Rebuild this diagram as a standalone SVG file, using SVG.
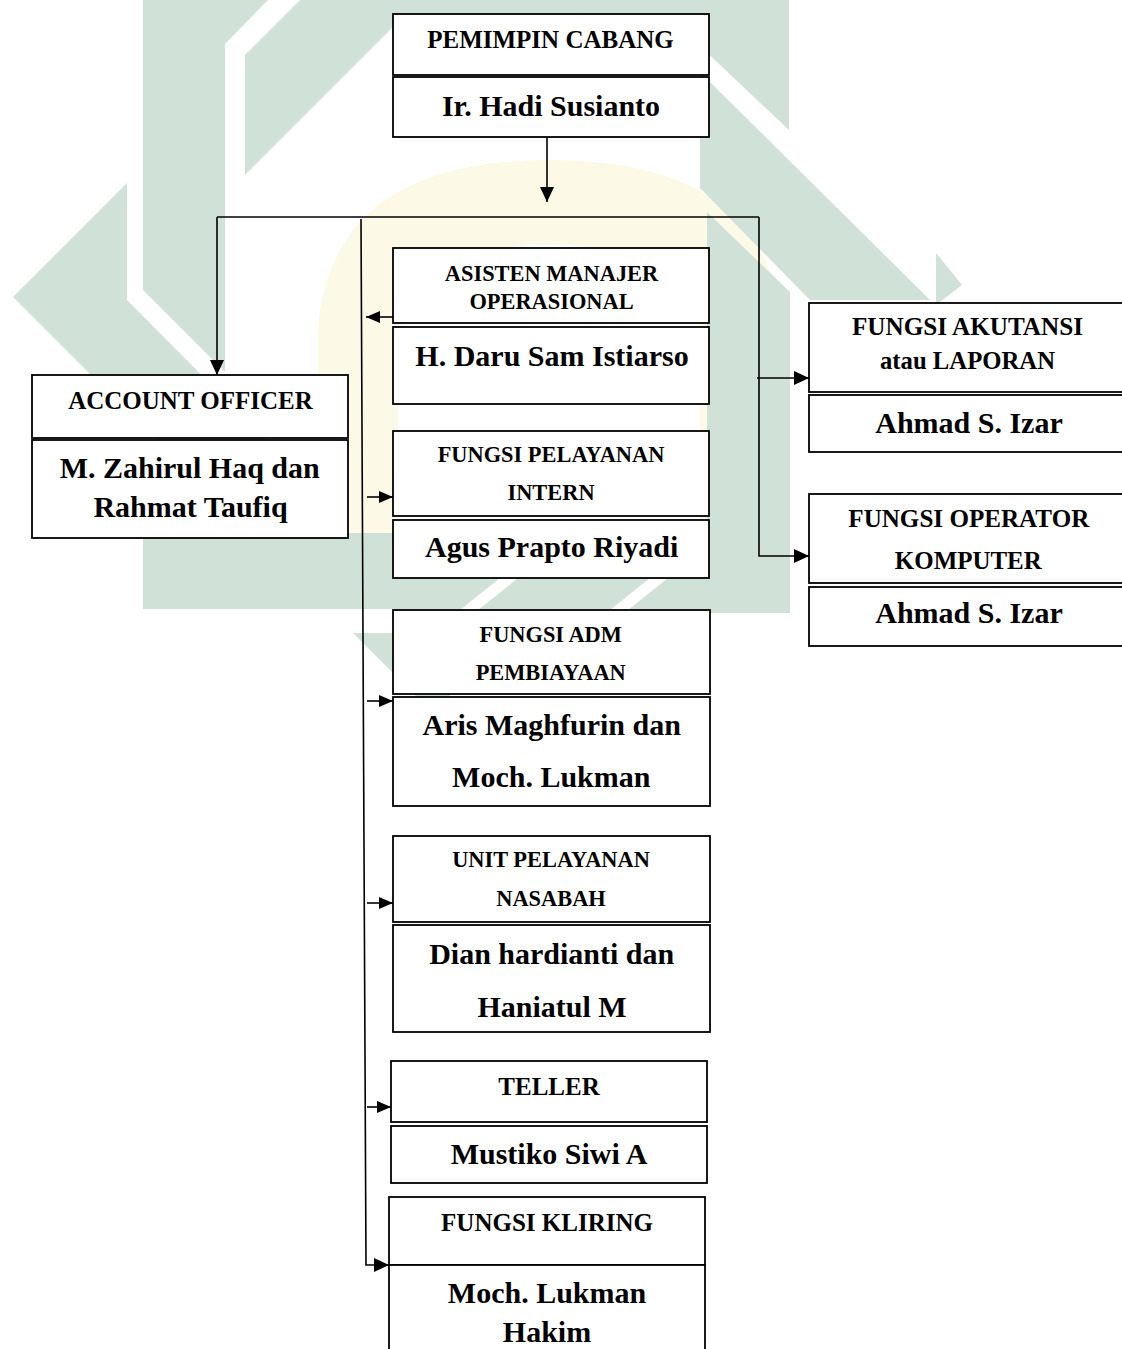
<svg xmlns="http://www.w3.org/2000/svg" width="1122" height="1349" viewBox="0 0 1122 1349">
  <defs>
    <style>
      .wm { fill: #d0e2d7; }
      .wy { fill: #fdf9e7; }
      .box { fill: #ffffff; stroke: #000000; stroke-width: 1.8; }
      .ln { fill: none; stroke: #000000; stroke-width: 1.6; }
      text { font-family: "Liberation Serif", "Times New Roman", serif; font-weight: bold; fill: #000000; text-anchor: middle; }
      .h1 { font-size: 25px; }
      .h2 { font-size: 22.4px; }
      .nm { font-size: 30px; }
    </style>
    <marker id="ah" markerUnits="userSpaceOnUse" markerWidth="15" markerHeight="14" refX="15" refY="7" orient="auto">
      <path d="M0,0 L15,7 L0,14 z" fill="#000000"/>
    </marker>
    <marker id="ahs" markerUnits="userSpaceOnUse" markerWidth="14" markerHeight="12" refX="14" refY="6" orient="auto">
      <path d="M0,0 L14,6 L0,12 z" fill="#000000"/>
    </marker>
  </defs>

  <rect x="0" y="0" width="1122" height="1349" fill="#ffffff"/>

  <!-- background emblem -->
  <g id="emblem">
    <path class="wy" d="M318,545 L318,330 Q330,160 550,160 Q770,160 782,330 L782,545 L700,545 L700,340 Q690,245 550,245 Q410,245 398,340 L398,545 z"/>
    <polygon class="wm" points="143,0 268,0 225,44 225,372 143,290"/>
    <polygon class="wm" points="127,183 13,297 190,474 300,474 127,300"/>
    <polygon class="wm" points="245,55 300,0 420,0 245,175"/>
    <rect class="wm" x="300" y="0" width="400" height="14"/>
    <polygon class="wm" points="700,0 789,0 789,130 700,46"/>
    <polygon class="wm" points="700,72 930,300 810,300 700,188"/>
    <polygon class="wm" points="936,253 962,285 936,305"/>
    <polygon class="wm" points="707,212 790,292 790,613 707,613"/>
    <rect class="wm" x="143" y="533" width="647" height="76"/>
    <polygon fill="#ffffff" points="500,578 518,578 478,610 460,610"/>
    <polygon fill="#ffffff" points="650,578 668,578 628,610 610,610"/>
    <polygon class="wm" points="353,633 450,633 450,730"/>
  </g>

  <!-- connectors -->
  <g id="connectors">
    <line class="ln" x1="547" y1="137" x2="547" y2="202" marker-end="url(#ah)"/>
    <line class="ln" x1="217" y1="217" x2="759" y2="217"/>
    <line class="ln" x1="217" y1="217" x2="217" y2="375" marker-end="url(#ah)"/>
    <polyline class="ln" points="759,217 759,556 809,556" marker-end="url(#ah)"/>
    <line class="ln" x1="757" y1="378" x2="809" y2="378" marker-end="url(#ah)"/>
    <polyline class="ln" points="361,219 366,1265 389,1265" marker-end="url(#ah)"/>
    <line class="ln" x1="393" y1="317" x2="366" y2="317" marker-end="url(#ahs)"/>
    <line class="ln" x1="367" y1="497" x2="393" y2="497" marker-end="url(#ahs)"/>
    <line class="ln" x1="367" y1="701" x2="393" y2="701" marker-end="url(#ahs)"/>
    <line class="ln" x1="367" y1="903" x2="393" y2="903" marker-end="url(#ahs)"/>
    <line class="ln" x1="367" y1="1107" x2="391" y2="1107" marker-end="url(#ahs)"/>
  </g>

  <!-- nodes -->
  <g id="pemimpin-cabang">
    <rect class="box" x="393" y="14" width="316" height="61"/>
    <rect class="box" x="393" y="77" width="316" height="60"/>
    <text class="h1" x="550.5" y="48.3">PEMIMPIN CABANG</text>
    <text class="nm" x="551" y="116">Ir. Hadi Susianto</text>
  </g>

  <g id="asisten-manajer">
    <rect class="box" x="393" y="248" width="316" height="75"/>
    <rect class="box" x="393" y="327" width="316" height="77"/>
    <text class="h2" x="551.5" y="280.7">ASISTEN MANAJER</text>
    <text class="h2" x="551.5" y="309.3">OPERASIONAL</text>
    <text class="nm" x="552" y="366">H. Daru Sam Istiarso</text>
  </g>

  <g id="pelayanan-intern">
    <rect class="box" x="393" y="431" width="316" height="85"/>
    <rect class="box" x="393" y="520" width="316" height="58"/>
    <text class="h2" x="551" y="461.7">FUNGSI PELAYANAN</text>
    <text class="h2" x="551" y="500">INTERN</text>
    <text class="nm" x="551.7" y="556.7">Agus Prapto Riyadi</text>
  </g>

  <g id="adm-pembiayaan">
    <rect class="box" x="393" y="610" width="317" height="84"/>
    <rect class="box" x="393" y="697" width="317" height="109"/>
    <text class="h2" x="550.7" y="641.7">FUNGSI ADM</text>
    <text class="h2" x="550.7" y="680">PEMBIAYAAN</text>
    <text class="nm" x="551.7" y="735">Aris Maghfurin dan</text>
    <text class="nm" x="551.3" y="786.7">Moch. Lukman</text>
  </g>

  <g id="pelayanan-nasabah">
    <rect class="box" x="393" y="836" width="317" height="86"/>
    <rect class="box" x="393" y="925" width="317" height="107"/>
    <text class="h2" x="551" y="867">UNIT PELAYANAN</text>
    <text class="h2" x="551" y="906">NASABAH</text>
    <text class="nm" x="551.7" y="964">Dian hardianti dan</text>
    <text class="nm" x="552" y="1016.5">Haniatul M</text>
  </g>

  <g id="teller">
    <rect class="box" x="391" y="1061" width="316" height="61"/>
    <rect class="box" x="391" y="1126" width="316" height="57"/>
    <text class="h1" x="549" y="1095">TELLER</text>
    <text class="nm" x="549" y="1163.5">Mustiko Siwi A</text>
  </g>

  <g id="kliring">
    <rect class="box" x="389" y="1197" width="316" height="68"/>
    <rect class="box" x="389" y="1265" width="316" height="100"/>
    <text class="h1" x="547" y="1230.7">FUNGSI KLIRING</text>
    <text class="nm" x="547" y="1302.7">Moch. Lukman</text>
    <text class="nm" x="547" y="1341.7">Hakim</text>
  </g>

  <g id="account-officer">
    <rect class="box" x="32" y="375" width="316" height="63"/>
    <rect class="box" x="32" y="440" width="316" height="98"/>
    <text class="h1" x="190.5" y="409.3">ACCOUNT OFFICER</text>
    <text class="nm" x="189.7" y="478.3">M. Zahirul Haq dan</text>
    <text class="nm" x="190.5" y="516.7">Rahmat Taufiq</text>
  </g>

  <g id="akutansi">
    <rect class="box" x="809" y="303" width="320" height="89"/>
    <rect class="box" x="809" y="395" width="320" height="57"/>
    <text class="h1" x="967.5" y="335" font-size="22" textLength="231" lengthAdjust="spacingAndGlyphs">FUNGSI AKUTANSI</text>
    <text class="h1" x="967.5" y="369" font-size="22" textLength="175" lengthAdjust="spacingAndGlyphs">atau LAPORAN</text>
    <text class="nm" x="969" y="433.3">Ahmad S. Izar</text>
  </g>

  <g id="operator-komputer">
    <rect class="box" x="809" y="494" width="320" height="89"/>
    <rect class="box" x="809" y="587" width="320" height="59"/>
    <text class="h1" x="968.8" y="526.7" font-size="22" textLength="241" lengthAdjust="spacingAndGlyphs">FUNGSI OPERATOR</text>
    <text class="h1" x="968.3" y="569.3" font-size="22" textLength="147" lengthAdjust="spacingAndGlyphs">KOMPUTER</text>
    <text class="nm" x="969" y="623.3">Ahmad S. Izar</text>
  </g>
</svg>
